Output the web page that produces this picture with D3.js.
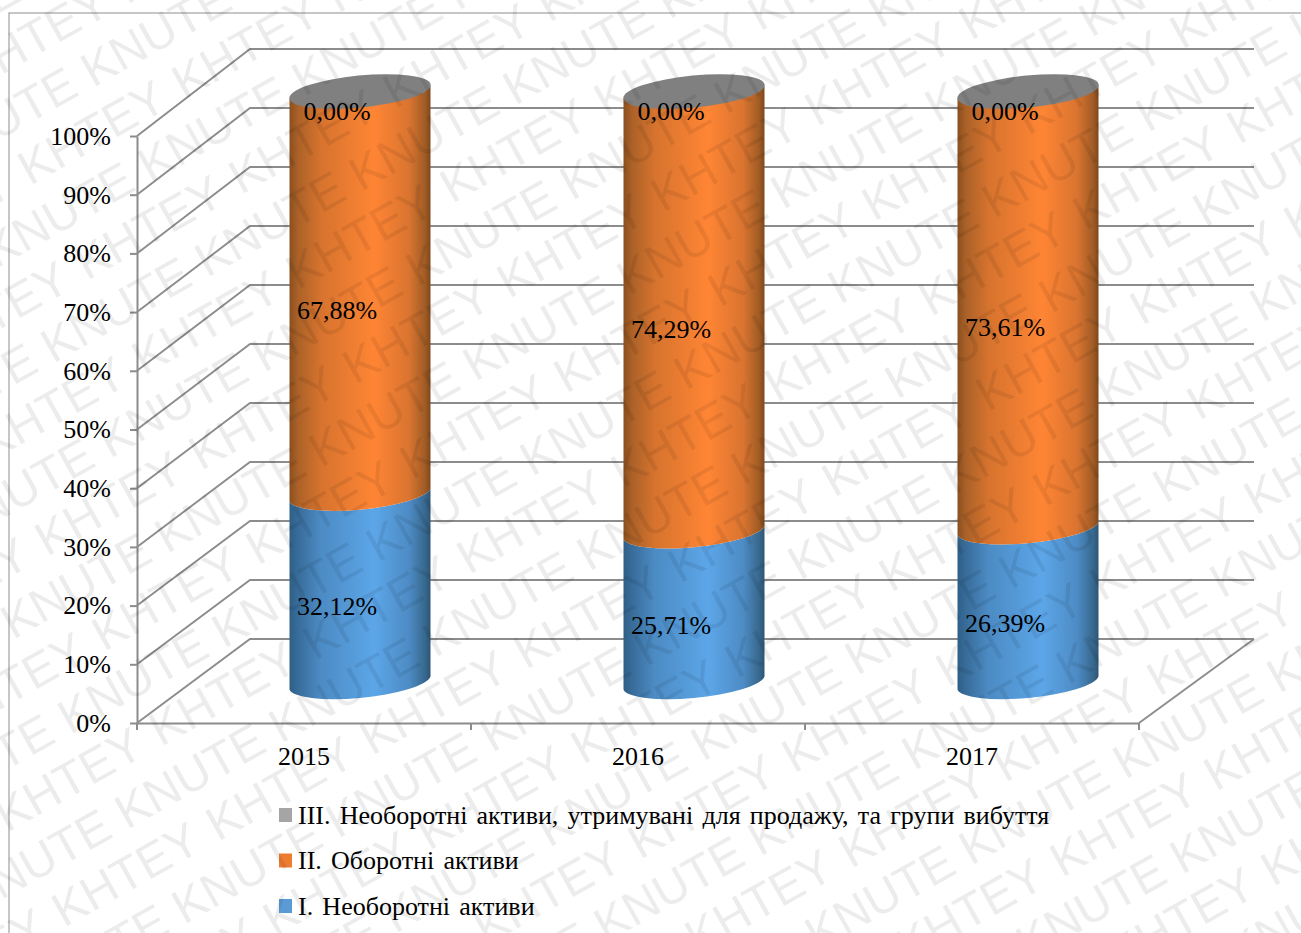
<!DOCTYPE html>
<html><head><meta charset="utf-8">
<script src="https://cdnjs.cloudflare.com/ajax/libs/d3/7.8.5/d3.min.js"></script>
<style>html,body{margin:0;padding:0;background:#fff;overflow:hidden}svg{display:block}</style>
</head><body><svg id="c" width="1301" height="933"></svg>
<script>
const categories=["2015","2016","2017"];
const seriesI=[32.12,25.71,26.39];
const seriesII=[67.88,74.29,73.61];
const seriesIII=[0,0,0];
const valueLabelsI=["32,12%","25,71%","26,39%"];
const valueLabelsII=["67,88%","74,29%","73,61%"];
const valueLabelsIII=["0,00%","0,00%","0,00%"];
const seriesNames=["III. Необоротні активи, утримувані для продажу, та групи вибуття","II. Оборотні активи","I. Необоротні активи"];
const legendColors=["#a5a5a5","#ed7d31","#5b9bd5"];
const yTicks=[0,10,20,30,40,50,60,70,80,90,100];
const watermarkWords=["KHTEY","KNUTE"];

const svg=d3.select("#c");
const serif="'Liberation Serif','Times New Roman',serif";
const yFront=d3.scaleLinear().domain([0,100]).range([723,136]);
const yBack=d3.scaleLinear().domain([0,100]).range([639,49]);
const yCyl=d3.scaleLinear().domain([0,32,100]).range([683,495.5,91.5]);
const xFront=d3.scaleBand().domain(categories).range([137,1139]);
const line="#8c8c8c";

svg.append("rect").attr("x",9).attr("y",13).attr("width",1400).attr("height",1000).attr("fill","#fff").attr("stroke","#a8a8a8").attr("stroke-width",1.3);

const defs=svg.append("defs");
function grad(id,stops){
  const g=defs.append("linearGradient").attr("id",id);
  stops.forEach(s=>g.append("stop").attr("offset",s[0]).attr("stop-color",s[1]));
}
grad("gBlue",[[0,"#2e5f85"],[.06,"#386c9a"],[.22,"#4c8bc4"],[.6,"#5ca6e8"],[.85,"#4d8bc4"],[.96,"#38698f"],[1,"#2d5575"]]);
grad("gOrange",[[0,"#8a4f1f"],[.06,"#ab6128"],[.22,"#d6732e"],[.6,"#ff8534"],[.85,"#d97430"],[.96,"#a15c25"],[1,"#7f481c"]]);

// walls and floor
const grid=svg.append("g").attr("fill","none").attr("stroke",line).attr("stroke-width",1.9);
grid.selectAll("path").data(yTicks).join("path")
  .attr("d",t=>d3.line()([[xFront.range()[0],yFront(t)],[250,yBack(t)],[1254,yBack(t)]]));
grid.append("path").attr("d",d3.line()([[xFront.range()[1],yFront(0)],[1254,yBack(0)]]));

// axes
const yAxis=svg.append("g").attr("transform",`translate(${xFront.range()[0]},0)`)
  .call(d3.axisLeft(yFront).tickValues(yTicks).tickFormat(d=>d+"%").tickSize(7).tickSizeOuter(0).tickPadding(19));
yAxis.selectAll("text").attr("font-family",serif).attr("font-size",26).attr("fill","#000");
const xAxis=svg.append("g").attr("transform",`translate(0,${yFront(0)})`)
  .call(d3.axisBottom(xFront).tickSize(0).tickPadding(23.5));
xAxis.selectAll("text").attr("font-family",serif).attr("font-size",26).attr("fill","#000");
[xAxis,yAxis].forEach(a=>{a.selectAll("path,line").attr("stroke",line).attr("stroke-width",2);});
xAxis.selectAll("line.sep").data(categories.concat(["end"])).join("line").attr("class","sep")
  .attr("x1",(d,i)=>xFront.range()[0]+i*xFront.step()).attr("x2",(d,i)=>xFront.range()[0]+i*xFront.step())
  .attr("y1",0).attr("y2",7).attr("stroke",line).attr("stroke-width",2);

// cylinders
const rx=71,ry=16,rot=-5.5,dz=6.4,hw=70.5,depth=56;
function seg(cx,y0,y1){
  return `M${cx-hw},${y0+dz}A${rx},${ry} ${rot} 0 0 ${cx+hw},${y0-dz}L${cx+hw},${y1-dz}A${rx},${ry} ${rot} 0 1 ${cx-hw},${y1+dz}Z`;
}
categories.forEach((c,i)=>{
  const cx=xFront(c)+xFront.bandwidth()/2+depth;
  const g=svg.append("g");
  const a=seriesI[i],b=a+seriesII[i],t=b+seriesIII[i];
  g.append("path").attr("d",seg(cx,yCyl(0),yCyl(a))).attr("fill","url(#gBlue)");
  g.append("path").attr("d",seg(cx,yCyl(a),yCyl(b))).attr("fill","url(#gOrange)");
  g.append("ellipse").attr("cx",0).attr("cy",0).attr("rx",rx).attr("ry",ry)
    .attr("transform",`translate(${cx},${yCyl(t)}) rotate(${rot})`).attr("fill","#808080");
  const lx=xFront(c)+xFront.bandwidth()/2+33;
  const lab=[[a/2,valueLabelsI[i]],[a+seriesII[i]/2,valueLabelsII[i]],[t,valueLabelsIII[i]]];
  lab.forEach(l=>g.append("text").attr("x",lx).attr("y",yCyl(l[0])+(l[0]>=100?28:26))
    .attr("text-anchor","middle").attr("font-family",serif).attr("font-size",26).attr("fill","#000").text(l[1]));
});

// legend
const leg=svg.append("g");
seriesNames.forEach((n,i)=>{
  const y=808+i*45.5;
  leg.append("rect").attr("x",279).attr("y",y).attr("width",13).attr("height",14).attr("fill",legendColors[i]);
  leg.append("text").attr("x",298).attr("y",y+15.5).attr("font-family",serif).attr("font-size",26).attr("fill","#000").attr("word-spacing",2.7).text(n);
});

// watermark: two alternating families of rows on a regular lattice
const wm=svg.append("g").attr("font-family","'Liberation Sans',sans-serif").attr("font-size",48).attr("fill","#000").attr("opacity",.075);
const along=[154,-86],across=[57,95];
const origins=[[7,833],[127,830]];
watermarkWords.forEach((w,k)=>{
  d3.range(-12,14).forEach(n=>d3.range(-12,14).forEach(m=>{
    const x=origins[k][0]+m*along[0]+n*across[0], y=origins[k][1]+m*along[1]+n*across[1];
    if(x<-160||x>1320||y<-10||y>1030) return;
    wm.append("text").attr("transform",`translate(${x},${y}) rotate(-29.3)`).text(w);
  }));
});
</script></body></html>
